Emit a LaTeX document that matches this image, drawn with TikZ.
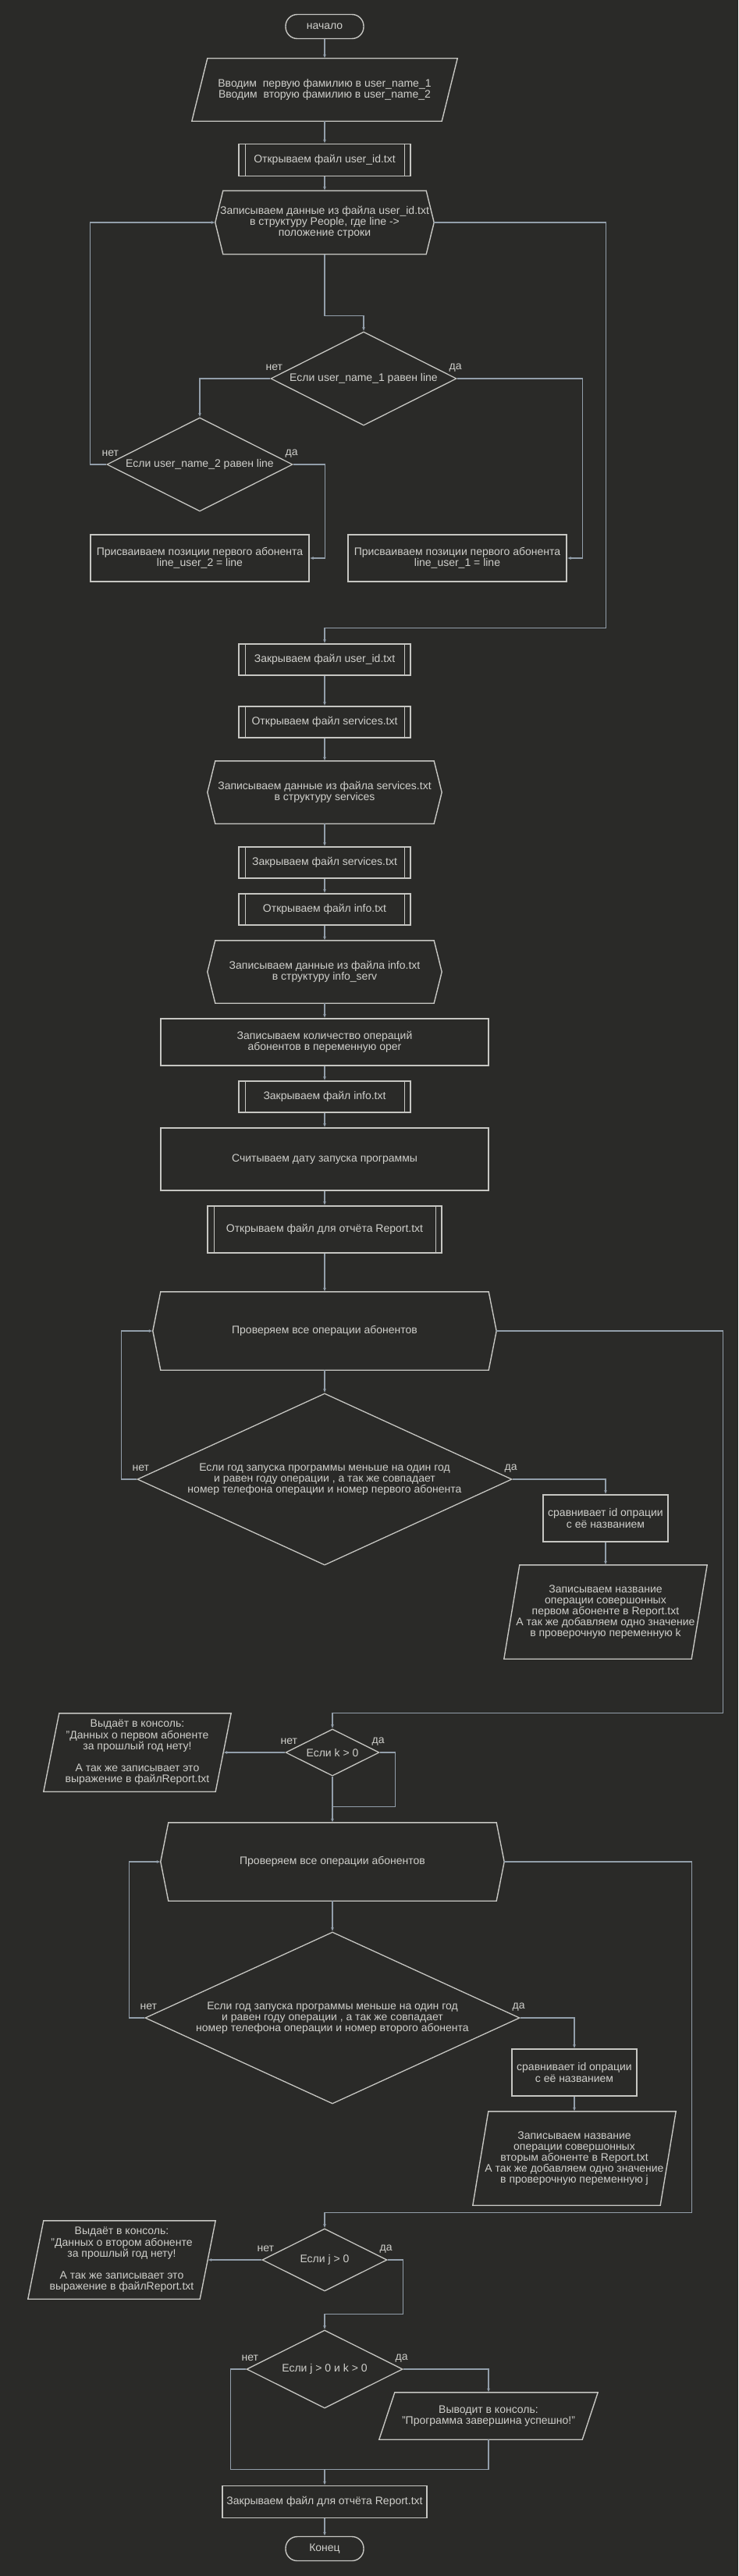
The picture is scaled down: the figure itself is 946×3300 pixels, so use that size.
\documentclass[tikz,border=0pt]{standalone}
\usepackage{fontspec}
\setmainfont{Liberation Sans}
\usetikzlibrary{shapes.geometric,arrows.meta}
\definecolor{bg}{HTML}{2A2A28}
\definecolor{shapegray}{HTML}{C6C6C2}
\definecolor{linegray}{HTML}{929EAA}
\definecolor{txtgray}{HTML}{CFCFCB}
\tikzset{every node/.style={font=\fontsize{14}{14.2}\selectfont, text=txtgray, align=center, inner sep=0pt},
  wh/.style 2 args={minimum width=#1pt, minimum height=#2pt},
  outline/.style={draw=shapegray, line width=1.4pt},
  term/.style={outline, rectangle, rounded corners=15pt, wh={100}{31}},
  proc/.style={outline, rectangle},
  subproc/.style={proc, path picture={
    \draw[shapegray, line width=0.8pt]
      ([xshift=8pt]path picture bounding box.north west) -- ([xshift=8pt]path picture bounding box.south west)
      ([xshift=-8pt]path picture bounding box.north east) -- ([xshift=-8pt]path picture bounding box.south east);}},
  io/.style={rectangle},
  hexa/.style={rectangle},
  decide/.style={outline, diamond, shape aspect=2, line width=1.3pt},
  line/.style={draw=linegray, line width=1.2pt},
  flow/.style={line, -{Latex[length=5pt,width=4pt]}},
  lbl/.style={text=txtgray}}

\begin{document}
\begin{tikzpicture}[x=1pt,y=-1pt]
  \fill[bg] (0,0) rectangle (946,3300);
  \useasboundingbox (0,0) rectangle (946,3300);

  \node[term] (start) at (416,34) {начало};
  \node[io, wh={320}{80}] (inp) at (416,115) {Вводим\ \ первую фамилию в user\_name\_1\\Вводим\ \ вторую фамилию в user\_name\_2};
  \node[subproc, wh={220}{41}] (openid) at (416,205) {Открываем файл user\_id.txt};
  \node[hexa, wh={280}{81}] (readid) at (416,285) {Записываем данные из файла user\_id.txt\\в структуру People, где line ->\\положение строки};
  \node[decide, wh={238}{120}] (d1) at (466,485) {Если user\_name\_1 равен line};
  \node[decide, wh={238}{120}] (d2) at (256,595) {Если user\_name\_2 равен line};
  \node[proc, wh={280}{60}] (set2) at (256,715) {Присваиваем позиции первого абонента\\line\_user\_2 = line};
  \node[proc, wh={280}{60}] (set1) at (586,715) {Присваиваем позиции первого абонента\\line\_user\_1 = line};
  \node[subproc, wh={220}{40}] (closeid) at (416,845) {Закрываем файл user\_id.txt};
  \node[subproc, wh={220}{40}] (openserv) at (416,925) {Открываем файл services.txt};
  \node[hexa, wh={300}{80}] (readserv) at (416,1015) {Записываем данные из файла services.txt\\в структуру services};
  \node[subproc, wh={220}{40}] (closeserv) at (416,1105) {Закрываем файл services.txt};
  \node[subproc, wh={220}{40}] (openinfo) at (416,1165) {Открываем файл info.txt};
  \node[hexa, wh={300}{80}] (readinfo) at (416,1245) {Записываем данные из файла info.txt\\в структуру info\_serv};
  \node[proc, wh={420}{60}] (count) at (416,1335) {Записываем количество операций\\абонентов в переменную oper};
  \node[subproc, wh={220}{40}] (closeinfo) at (416,1405) {Закрываем файл info.txt};
  \node[proc, wh={420}{80}] (date) at (416,1485) {Считываем дату запуска программы};
  \node[subproc, wh={300}{60}] (openrep) at (416,1575) {Открываем файл для отчёта Report.txt};
  \node[hexa, wh={440}{100}] (loop1) at (416,1705) {Проверяем все операции абонентов};
  \node[decide, shape aspect=2.18, wh={480}{220}] (d3) at (416,1895) {Если год запуска программы меньше на один год\\и равен году операции , а так же совпадает\\номер телефона операции и номер первого абонента};
  \node[proc, wh={160}{60}] (cmp1) at (776,1945) {сравнивает id опрации\\с её названием};
  \node[io, wh={240}{120}] (wr1) at (776,2065) {Записываем название\\операции совершонных\\первом абоненте в Report.txt\\А так же добавляем одно значение\\в проверочную переменную k};
  \node[decide, wh={120}{60}] (dk) at (426,2245) {Если k > 0};
  \node[io, wh={220}{100}] (out1) at (176,2245) {Выдаёт в консоль:\\"Данных о первом абоненте\\за прошлый год нету!\\[14.2pt]А так же записывает это\\выражение в файлReport.txt};
  \node[hexa, wh={440}{100}] (loop2) at (426,2385) {Проверяем все операции абонентов};
  \node[decide, shape aspect=2.18, wh={480}{220}] (d4) at (426,2585) {Если год запуска программы меньше на один год\\и равен году операции , а так же совпадает\\номер телефона операции и номер второго абонента};
  \node[proc, wh={160}{60}] (cmp2) at (736,2655) {сравнивает id опрации\\с её названием};
  \node[io, wh={240}{120}] (wr2) at (736,2765) {Записываем название\\операции совершонных\\вторым абоненте в Report.txt\\А так же добавляем одно значение\\в проверочную переменную j};
  \node[decide, wh={160}{80}] (dj) at (416,2895) {Если j > 0};
  \node[io, wh={220}{100}] (out2) at (156,2895) {Выдаёт в консоль:\\"Данных о втором абоненте\\за прошлый год нету!\\[14.2pt]А так же записывает это\\выражение в файлReport.txt};
  \node[decide, wh={200}{100}] (djk) at (416,3035) {Если j > 0 и k > 0};
  \node[io, wh={260}{60}] (okmsg) at (626,3095) {Выводит в консоль:\\"Программа завершина успешно!"};
  \node[proc, wh={262}{41}] (closerep) at (416,3205) {Закрываем файл для отчёта Report.txt};
  \node[term] (stop) at (416,3265) {Конец};

  \foreach \n in {inp,wr1,out1,wr2,out2,okmsg}
    \draw[outline] ([xshift=10pt]\n.north west) -- ([xshift=10pt]\n.north east)
      -- ([xshift=-10pt]\n.south east) -- ([xshift=-10pt]\n.south west) -- cycle;
  \foreach \n in {readid,readserv,readinfo,loop1,loop2}
    \draw[outline] (\n.west) -- ([xshift=10pt]\n.north west) -- ([xshift=-10pt]\n.north east)
      -- (\n.east) -- ([xshift=-10pt]\n.south east) -- ([xshift=10pt]\n.south west) -- cycle;

  \foreach \a/\b in {start/inp,inp/openid,openid/readid,closeid/openserv,openserv/readserv,
      readserv/closeserv,closeserv/openinfo,openinfo/readinfo,readinfo/count,count/closeinfo,
      closeinfo/date,date/openrep,openrep/loop1,loop1/d3,cmp1/wr1,loop2/d4,cmp2/wr2,closerep/stop}
    \draw[flow] (\a.south) -- (\b.north);

  \draw[flow] (readid.south) |- ([yshift=20pt]d1.north) -- (d1.north);
  \draw[flow] (d1.west) -| (d2.north);
  \draw[flow] (d1.east) -| ([xshift=20pt]set1.east) -- (set1.east);
  \draw[flow] (d2.east) -| ([xshift=20pt]set2.east) -- (set2.east);
  \draw[flow] (d2.west) -- (set2.west |- d2.west) |- (readid.west);
  \draw[flow] (readid.east) -- ++(220,0) |- ([yshift=20pt]closeid.north) -- (closeid.north);

  \draw[flow] (d3.west) -- ++(-20,0) |- (loop1.west);
  \draw[flow] (d3.east) -| (cmp1.north);
  \draw[flow] (loop1.east) -- ++(290,0) |- ([yshift=20pt]dk.north) -- (dk.north);
  \draw[flow] (dk.west) -- (out1.east);
  \coordinate (m1) at ([yshift=20pt]loop2.north);
  \draw[line] (dk.east) -- ++(20,0) |- (m1);
  \draw[flow] (dk.south) -- (loop2.north);

  \draw[flow] (d4.west) -- ++(-20,0) |- (loop2.west);
  \draw[flow] (d4.east) -| (cmp2.north);
  \draw[flow] (loop2.east) -- ++(240,0) |- ([yshift=20pt]dj.north) -- (dj.north);
  \draw[flow] (dj.west) -- (out2.east);
  \draw[flow] (dj.east) -- ++(20,0) |- ([yshift=20pt]djk.north) -- (djk.north);
  \draw[flow] (djk.east) -| (okmsg.north);
  \coordinate (m2) at ([yshift=20pt]closerep.north);
  \draw[line] (okmsg.south) |- (m2);
  \draw[line] (djk.west) -- ++(-20,0) |- (m2);
  \draw[flow] (m2) -- (closerep.north);

  \foreach \d in {d1,d2,d3,dk,d4,dj,djk}{
    \node[lbl] (\d-no) at ([shift={(5,-14)}]\d.west) {нет};
    \node[lbl] (\d-yes) at ([shift={(-2,-14)}]\d.east) {да};
  }
\end{tikzpicture}
\end{document}
